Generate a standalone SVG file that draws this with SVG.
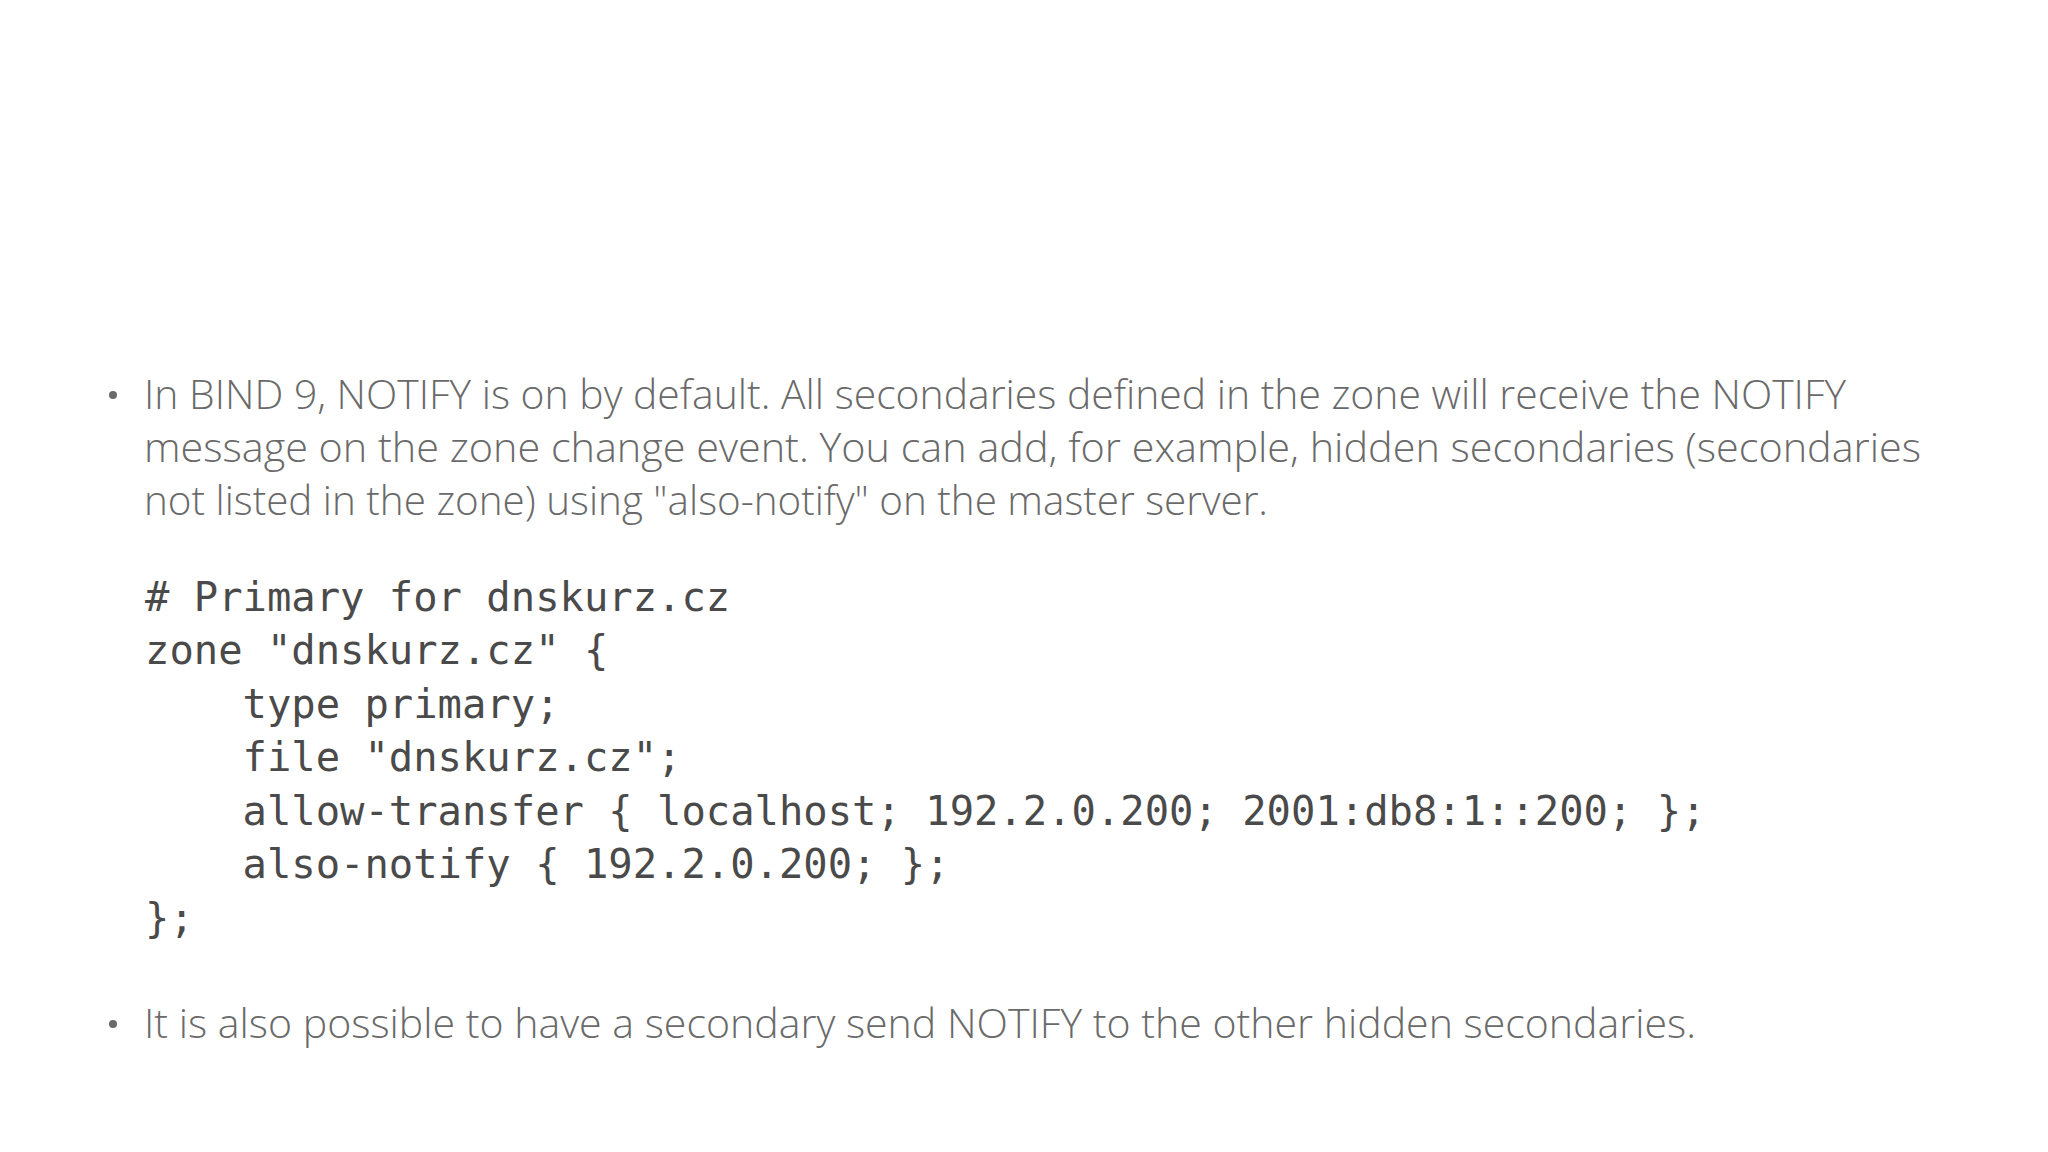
<svg xmlns="http://www.w3.org/2000/svg" width="2048" height="1152" viewBox="0 0 2048 1152">
<style>
.t{font-family:"Open Sans","Liberation Sans",sans-serif;font-weight:300;font-size:40px;fill:#6a6a6a}
.c{font-family:"DejaVu Sans Mono","Liberation Mono",monospace;font-size:40.5px;fill:#4a4a4a;white-space:pre}
.b{fill:#6a6a6a}
</style>
<rect width="2048" height="1152" fill="#fff"/>
<g id="bullet1">
<circle class="b" cx="113" cy="395" r="4"/>
<text class="t" x="144" y="409" textLength="1702" lengthAdjust="spacingAndGlyphs">In BIND 9, NOTIFY is on by default. All secondaries defined in the zone will receive the NOTIFY</text>
<text class="t" x="144" y="462" textLength="1777" lengthAdjust="spacingAndGlyphs">message on the zone change event. You can add, for example, hidden secondaries (secondaries</text>
<text class="t" x="144" y="515" textLength="1124" lengthAdjust="spacingAndGlyphs">not listed in the zone) using "also-notify" on the master server.</text>
</g>
<g id="code">
<text class="c" x="145" y="611"># Primary for dnskurz.cz</text>
<text class="c" x="145" y="664">zone "dnskurz.cz" {</text>
<text class="c" x="145" y="718">    type primary;</text>
<text class="c" x="145" y="771">    file "dnskurz.cz";</text>
<text class="c" x="145" y="825">    allow-transfer { localhost; 192.2.0.200; 2001:db8:1::200; };</text>
<text class="c" x="145" y="878">    also-notify { 192.2.0.200; };</text>
<text class="c" x="145" y="932">};</text>
</g>
<g id="bullet2">
<circle class="b" cx="113" cy="1024" r="4"/>
<text class="t" x="144" y="1038" textLength="1552" lengthAdjust="spacingAndGlyphs">It is also possible to have a secondary send NOTIFY to the other hidden secondaries.</text>
</g>
<g id="connectors"/>
</svg>
